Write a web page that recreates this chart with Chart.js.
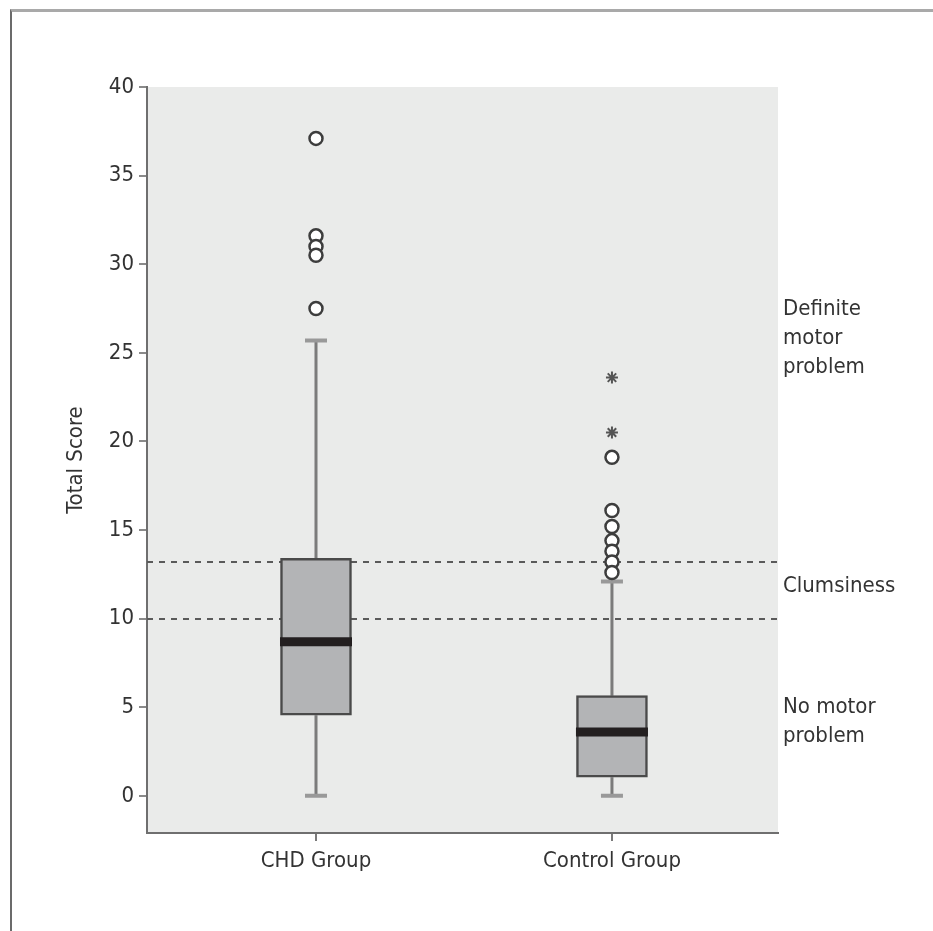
<!DOCTYPE html>
<html>
<head>
<meta charset="utf-8">
<script src="https://cdn.jsdelivr.net/npm/chart.js@4.4.1/dist/chart.umd.min.js"></script>
<style>
    body { margin: 0; background: #fff; }
    #wrap { position: relative; width: 933px; height: 931px; overflow: hidden; }
    #frame {
        position: absolute; left: 10px; top: 9px; right: 0; bottom: 0;
        border-top: 3px solid #a9a9a9;
        border-left: 2px solid #6b6b6b;
    }
    #chart { position: absolute; left: 0; top: 0; }
</style>
</head>
<body>
<div id="wrap">
    <div id="frame"></div>
    <canvas id="chart" width="933" height="931"></canvas>
</div>

<script>
// values
const groups = ['CHD Group', 'Control Group'];
const whiskerLow = [0, 0];
const boxLow = [4.55, 1.05];
const medians = [8.7, 3.6];
const boxHigh = [13.4, 5.65];
const whiskerHigh = [25.7, 12.1];
const chdOutliers = [37.1, 31.6, 31.0, 30.5, 27.5];
const controlOutliers = [19.1, 16.1, 15.2, 14.4, 13.8, 13.2, 12.6];
const controlExtremes = [23.6, 20.5];
const yTicks = [0, 5, 10, 15, 20, 25, 30, 35, 40];
const cutoffs = [13.2, 10];
const zoneLabels = [['Definite', 'motor', 'problem'], ['Clumsiness'], ['No motor', 'problem']];
const zoneAnchors = [25.8, 11.8, 4.2];

const FONT = '"Liberation Sans Narrow", "DejaVu Sans Condensed", sans-serif';
const TEXT = '#333';

const boxPlotExtras = {
    id: 'boxPlotExtras',
    beforeDraw(chart) {
        const {ctx, chartArea: a} = chart;
        ctx.save();
        ctx.fillStyle = '#eaebea';
        ctx.fillRect(a.left, a.top, a.right - a.left, a.bottom - a.top);
        ctx.restore();
    },
    beforeDatasetsDraw(chart) {
        const {ctx, chartArea: a, scales: {x, y}} = chart;
        ctx.save();
        // cut-off lines
        ctx.strokeStyle = '#5a5a5a';
        ctx.lineWidth = 2;
        ctx.setLineDash([6, 6]);
        for (const c of cutoffs) {
            const py = Math.round(y.getPixelForValue(c));
            ctx.beginPath();
            ctx.moveTo(a.left, py);
            ctx.lineTo(a.right, py);
            ctx.stroke();
        }
        ctx.setLineDash([]);
        // whiskers and caps
        groups.forEach((g, i) => {
            const px = x.getPixelForValue(i + 1);
            ctx.strokeStyle = '#7b7b7b';
            ctx.lineWidth = 3;
            ctx.beginPath();
            ctx.moveTo(px, y.getPixelForValue(whiskerLow[i]));
            ctx.lineTo(px, y.getPixelForValue(boxLow[i]));
            ctx.moveTo(px, y.getPixelForValue(boxHigh[i]));
            ctx.lineTo(px, y.getPixelForValue(whiskerHigh[i]));
            ctx.stroke();
            ctx.strokeStyle = '#999';
            ctx.lineWidth = 4;
            ctx.beginPath();
            for (const v of [whiskerLow[i], whiskerHigh[i]]) {
                const py = y.getPixelForValue(v);
                ctx.moveTo(px - 11, py);
                ctx.lineTo(px + 11, py);
            }
            ctx.stroke();
        });
        ctx.restore();
    },
    afterDatasetsDraw(chart) {
        const {ctx, scales: {x, y}} = chart;
        ctx.save();
        ctx.strokeStyle = '#231f20';
        ctx.lineWidth = 9;
        groups.forEach((g, i) => {
            const px = x.getPixelForValue(i + 1);
            const py = y.getPixelForValue(medians[i]);
            ctx.beginPath();
            ctx.moveTo(px - 36, py);
            ctx.lineTo(px + 36, py);
            ctx.stroke();
        });
        ctx.restore();
    },
    afterDraw(chart) {
        const {ctx, chartArea: a, scales: {y}} = chart;
        ctx.save();
        ctx.font = '22px ' + FONT;
        ctx.fillStyle = TEXT;
        ctx.textAlign = 'left';
        ctx.textBaseline = 'middle';
        const lh = 29;
        zoneLabels.forEach((lines, i) => {
            const mid = y.getPixelForValue(zoneAnchors[i]);
            const y0 = mid - (lines.length - 1) * lh / 2;
            lines.forEach((t, j) => ctx.fillText(t, a.right + 5, y0 + j * lh));
        });
        ctx.restore();
    }
};

new Chart(document.getElementById('chart'), {
    type: 'bar',
    data: {
        datasets: [
            {
                type: 'scatter',
                data: chdOutliers.map(v => ({x: 1, y: v})),
                pointStyle: 'circle',
                pointRadius: 6.5,
                backgroundColor: '#fff',
                borderColor: '#3d3d3d',
                borderWidth: 2.5,
                order: 0
            },
            {
                type: 'scatter',
                data: controlOutliers.map(v => ({x: 2, y: v})),
                pointStyle: 'circle',
                pointRadius: 6.5,
                backgroundColor: '#fff',
                borderColor: '#3d3d3d',
                borderWidth: 2.5,
                order: 0
            },
            {
                type: 'scatter',
                data: controlExtremes.map(v => ({x: 2, y: v})),
                pointStyle: 'star',
                pointRadius: 6,
                backgroundColor: '#555',
                borderColor: '#555',
                borderWidth: 2,
                order: 0
            },
            {
                type: 'bar',
                data: groups.map((g, i) => ({x: i + 1, y: [boxLow[i], boxHigh[i]]})),
                barThickness: 71,
                backgroundColor: '#b3b4b6',
                borderColor: '#4a4a4a',
                borderWidth: 2.5,
                borderSkipped: false,
                order: 1
            }
        ]
    },
    options: {
        responsive: false,
        animation: false,
        events: [],
        layout: { padding: { left: 63, right: 155, top: 87, bottom: 0 } },
        plugins: { legend: { display: false }, tooltip: { enabled: false } },
        scales: {
            x: {
                type: 'linear',
                min: 0.429,
                max: 2.561,
                offset: false,
                afterBuildTicks: s => { s.ticks = groups.map((g, i) => ({value: i + 1})); },
                afterFit: s => { s.height = 98; },
                ticks: {
                    callback: (v, i) => groups[i],
                    font: { family: FONT, size: 22 },
                    color: TEXT,
                    padding: 7,
                    autoSkip: false,
                    maxRotation: 0
                },
                grid: { offset: false, drawOnChartArea: false, tickLength: 8, color: '#7a7a7a', lineWidth: 2 },
                border: { color: '#6f6f6f', width: 2 }
            },
            y: {
                type: 'linear',
                min: -2.1,
                max: 40,
                afterBuildTicks: s => { s.ticks = yTicks.map(v => ({value: v})); },
                afterFit: s => { s.width = 84; },
                ticks: {
                    font: { family: FONT, size: 22 },
                    color: TEXT,
                    padding: 5
                },
                grid: { drawOnChartArea: false, tickLength: 8, color: '#8a8a8a', lineWidth: 2 },
                border: { color: '#6f6f6f', width: 2 },
                title: {
                    display: true,
                    text: 'Total Score',
                    font: { family: FONT, size: 22 },
                    color: TEXT,
                    padding: 0
                }
            }
        }
    },
    plugins: [boxPlotExtras]
});
</script>
</body>
</html>
